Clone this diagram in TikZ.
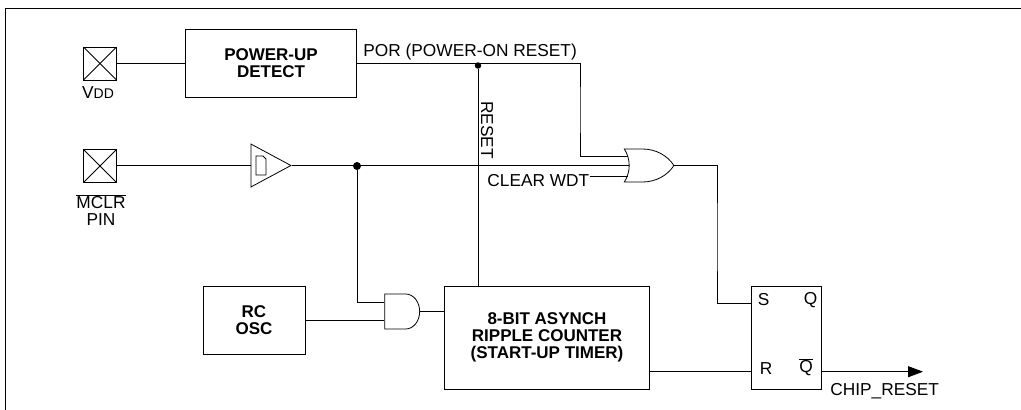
\documentclass[tikz,border=0pt]{standalone}
\usepackage{fontspec}
\setmainfont{Liberation Sans}
\usetikzlibrary{arrows.meta,shapes.geometric,shapes.gates.logic.US}
\tikzset{
  boxnode/.style={rectangle,draw=black,inner sep=0pt,align=center,font=\fontsize{17}{17}\selectfont\bfseries},
  padnode/.style={rectangle,draw=black,inner sep=0pt,minimum size=33pt,
    path picture={\draw (path picture bounding box.south west) -- (path picture bounding box.north east);
                  \draw (path picture bounding box.north west) -- (path picture bounding box.south east);}},
  textnode/.style={inner sep=0pt,align=center,font=\fontsize{17.3}{17.3}\selectfont},
  dotnode/.style={circle,fill=black,inner sep=0pt,minimum size=6.5pt},
  bufnode/.style={isosceles triangle,isosceles triangle stretches,draw=black,inner sep=0pt,minimum width=43pt,minimum height=40pt},
}
\begin{document}
\begin{tikzpicture}[thick,x=1pt,y=-1pt]
\useasboundingbox (0,0) rectangle (1021,410);
\coordinate (framebl) at (5,410);
\coordinate (frametr) at (1021,8);
\draw (framebl) |- (frametr);

\node at (100,63.5) [padnode] (vdd) {};
\node at (98,93) [textnode] (vddlabel) {V{\fontsize{14}{14}\selectfont DD}};
\node at (100,166) [padnode] (mclr) {};
\node at (101,210) [textnode] (mclrlabel) {$\overline{\mbox{MCLR}}$\\PIN};

\node at (271,63.5) [boxnode,minimum width=171.5pt,minimum height=68pt] (powerup) {POWER-UP\\DETECT};
\node at (254,320) [boxnode,minimum width=102pt,minimum height=68pt] (rcosc) {RC\\OSC};
\node at (547,337.5) [boxnode,minimum width=205pt,minimum height=103pt] (counter) {8-BIT ASYNCH\\RIPPLE COUNTER\\(START-UP TIMER)};
\node at (786.7,337.5) [rectangle,draw=black,minimum width=70pt,minimum height=103pt] (srlatch) {};

\node at (763.7,300) [textnode] (slabel) {S};
\node at (810.7,300) [textnode] (qlabel) {Q};
\node at (766,369) [textnode] (rlabel) {R};
\node at (806,367) [textnode] (qbarlabel) {$\overline{\mbox{Q}}$};

\node at (250.5,165.5) [bufnode,anchor=west] (buffer) {};
\draw (256,175) -- (256,156) -- (263,156) -- (266,159) -- (266,175) -- cycle;

\node at (645.5,165.5) [or gate US,draw=black,logic gate inputs=nnn,logic gate input sep=8.25pt,inner sep=0pt,xscale=1.1,transform shape] (orgate) {};
\node at (401,311.5) [and gate US,draw=black,logic gate inputs=nn,logic gate input sep=11.67pt,inner sep=0pt,xscale=0.8,transform shape] (andgate) {};

\node at (357,166) [dotnode,minimum size=8pt] (dotmclr) {};
\node at (478,65.5) [dotnode] (dotpor) {};

\node at (363,52.5) [textnode,anchor=west] (porlabel) {POR (POWER-ON RESET)};
\node at (487,180.7) [textnode,anchor=west] (clearlabel) {CLEAR WDT};
\node at (487,130) [textnode,rotate=-90] (resetlabel) {RESET};
\node at (830,391.5) [textnode,anchor=west] (chiplabel) {CHIP\_RESET};

\coordinate (porbend) at (580,110);
\coordinate (srbend) at (717,240);
\coordinate (sinput) at (751.7,303);
\coordinate (rinput) at (751.7,371.7);
\coordinate (chipend) at (923,371.7);

\draw (vdd.east) -- (vdd.east -| powerup.west);
\draw (powerup.east) -| (porbend) |- ([yshift=1pt]orgate.input 1);
\draw (dotpor) -- (dotpor |- counter.north);
\draw (mclr.east |- buffer.west) -- (buffer.west);
\draw (buffer.east) -- (orgate.input 2);
\draw (clearlabel.east |- orgate.input 3) ++(0,3) -- ([yshift=-3pt]orgate.input 3);
\draw (dotmclr) |- ([yshift=8.8pt]andgate.west);
\draw (rcosc.east |- andgate.west) ++(0,8.8) -- ([yshift=-8.8pt]andgate.west);
\draw (andgate.east) -- (andgate.east -| counter.west);
\draw (orgate.east) -| (srbend) |- (sinput);
\draw (counter.east |- rinput) -- (rinput);
\draw[-{Triangle[length=15pt,width=11pt]}] (srlatch.east |- rinput) -- (chipend);
\end{tikzpicture}
\end{document}
